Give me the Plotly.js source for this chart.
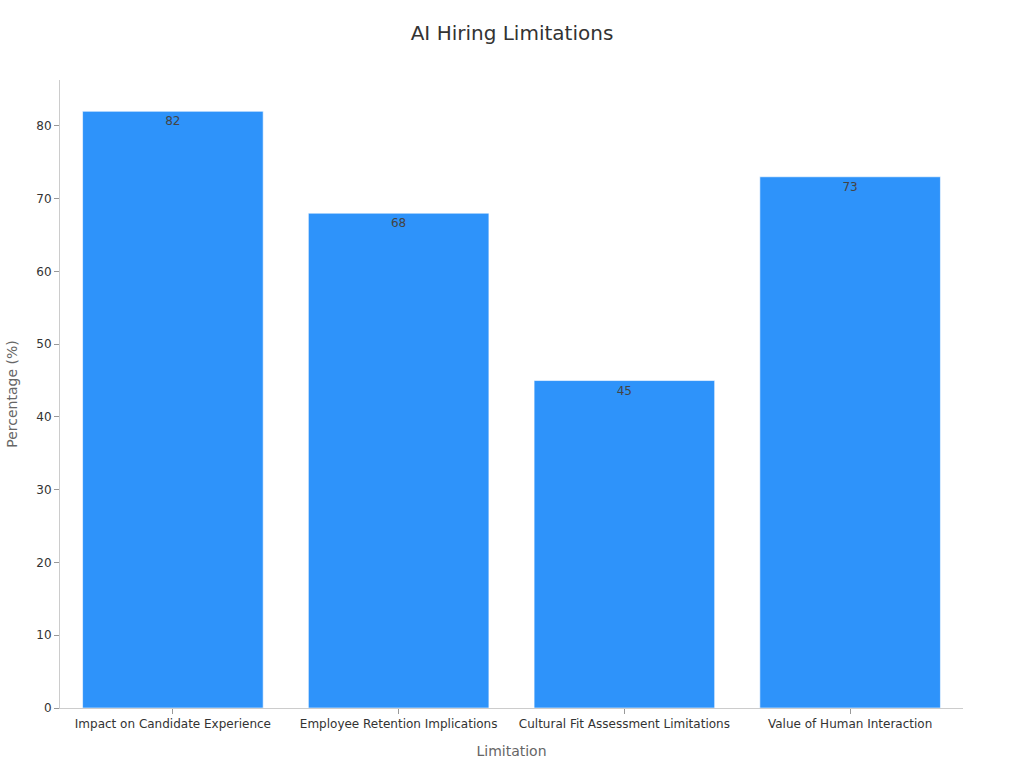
<!DOCTYPE html>
<html>
<head>
<meta charset="utf-8">
<script src="https://cdn.plot.ly/plotly-3.0.1.min.js"></script>
<style>html,body{margin:0;padding:0;background:#fff;}#chart{width:1024px;height:768px;}</style>
</head>
<body>
<div id="chart"></div>
<script>
const categories = ["Impact on Candidate Experience", "Employee Retention Implications", "Cultural Fit Assessment Limitations", "Value of Human Interaction"];
const percentages = [82, 68, 45, 73];
const labels = ["82", "68", "45", "73"];

const trace = {
  type: 'bar',
  x: categories,
  y: percentages,
  text: labels,
  textposition: 'inside',
  insidetextanchor: 'end',
  textangle: 0,
  textfont: {family: 'DejaVu Sans', size: 12, color: '#444444'},
  marker: {color: '#2E93FA', line: {color: 'rgba(255,255,255,0.6)', width: 1}},
  hoverinfo: 'none'
};

const layout = {
  width: 1024, height: 768,
  margin: {l: 60, r: 61, t: 80, b: 60},
  paper_bgcolor: '#ffffff', plot_bgcolor: '#ffffff',
  font: {family: 'DejaVu Sans', color: '#333333', size: 12},
  title: {text: 'AI Hiring Limitations', x: 0.5, xanchor: 'center', y: 0.957, yanchor: 'middle', font: {family: 'DejaVu Sans', size: 20, color: '#333333'}},
  bargap: 0.2,
  showlegend: false,
  xaxis: {
    title: {text: 'Limitation', font: {size: 14, color: '#666666'}, standoff: 15},
    showline: true, linecolor: '#cccccc', linewidth: 1,
    ticks: 'outside', ticklen: 5, tickcolor: '#999999',
    showgrid: false, zeroline: false,
    tickfont: {size: 12, color: '#333333'}
  },
  yaxis: {
    title: {text: 'Percentage (%)', font: {size: 14, color: '#666666'}, standoff: 15},
    range: [0, 86.3],
    dtick: 10,
    showline: true, linecolor: '#cccccc', linewidth: 1,
    ticks: 'outside', ticklen: 5, tickcolor: '#999999',
    showgrid: false, zeroline: false,
    tickfont: {size: 12, color: '#333333'}
  }
};

Plotly.newPlot('chart', [trace], layout, {displayModeBar: false, staticPlot: true});
</script>
</body>
</html>
